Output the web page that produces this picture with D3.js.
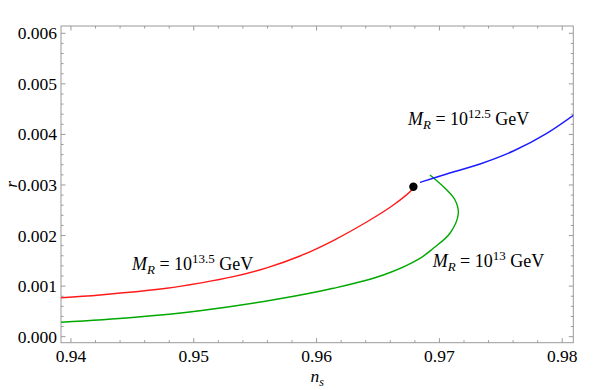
<!DOCTYPE html>
<html>
<head>
<meta charset="utf-8">
<script src="https://cdn.jsdelivr.net/npm/d3@7"></script>
<style>
  body { margin: 0; background: #fff; }
</style>
</head>
<body>
<svg id="chart" width="599" height="390" font-family="'Liberation Serif', 'Times New Roman', serif"></svg>
<script>
// curves: [n_s, r]
var redCurve = [
  [0.9392, 0.000771], [0.94236, 0.000825], [0.94779, 0.000957], [0.9505, 0.00106],
  [0.95322, 0.001187], [0.95594, 0.001362], [0.95865, 0.001596], [0.96136, 0.001902],
  [0.96408, 0.002268], [0.96625, 0.002604], [0.96774, 0.002901], [0.96788, 0.002966]
];
var greenCurve = [
  [0.9392, 0.000285], [0.9450, 0.00038], [0.9505, 0.000514], [0.95675, 0.000739],
  [0.96136, 0.000957], [0.96543, 0.00122], [0.96842, 0.00155], [0.9695, 0.001748],
  [0.97086, 0.002045], [0.97154, 0.00244], [0.97127, 0.002703], [0.97046, 0.002935],
  [0.96923, 0.003198]
];
var blueCurve = [
  [0.96842, 0.003053], [0.97059, 0.003217], [0.97331, 0.003415], [0.97602, 0.003672],
  [0.97874, 0.004022], [0.9810, 0.004395]
];
var dotPoint = [0.96788, 0.002966];

var xTicks = [0.94, 0.95, 0.96, 0.97, 0.98];
var yTicks = [0.000, 0.001, 0.002, 0.003, 0.004, 0.005, 0.006];

// label: [n_s, r, exponent]
var labels = [
  [0.96744, 0.004186, "12.5"],
  [0.94497, 0.001319, "13.5"],
  [0.96945, 0.001384, "13"]
];

var svg = d3.select("#chart");
var pLeft = 61, pRight = 573.3, pTop = 26, pBottom = 342.7;

var x = d3.scaleLinear().domain([0.93919, 0.9809]).range([pLeft, pRight]);
var y = d3.scaleLinear().domain([-0.000119, 0.006144]).range([pBottom, pTop]);

var frameColor = "#9a9a9a";

svg.append("clipPath").attr("id", "clip")
  .append("rect").attr("x", pLeft).attr("y", pTop)
  .attr("width", pRight - pLeft).attr("height", pBottom - pTop);

// minor + major ticks on all four sides
var xMinor = d3.range(0.94, 0.9811, 0.002);
var yMinor = d3.range(0, 0.00615, 0.0002);
var tg = svg.append("g").attr("stroke", frameColor).attr("stroke-width", 1);

xMinor.forEach(function(v, i) {
  var len = (i % 5 === 0) ? 4.5 : 2.5;
  var px = x(v);
  tg.append("line").attr("x1", px).attr("x2", px).attr("y1", pBottom).attr("y2", pBottom - len);
  tg.append("line").attr("x1", px).attr("x2", px).attr("y1", pTop).attr("y2", pTop + len);
});
yMinor.forEach(function(v, i) {
  var len = (i % 5 === 0) ? 4.5 : 2.5;
  var py = y(v);
  tg.append("line").attr("x1", pLeft).attr("x2", pLeft + len).attr("y1", py).attr("y2", py);
  tg.append("line").attr("x1", pRight).attr("x2", pRight - len).attr("y1", py).attr("y2", py);
});

svg.append("rect").attr("x", pLeft).attr("y", pTop)
  .attr("width", pRight - pLeft).attr("height", pBottom - pTop)
  .attr("fill", "none").attr("stroke", frameColor).attr("stroke-width", 1);

// tick labels
svg.selectAll(".xl").data(xTicks).enter().append("text")
  .attr("x", function(d) { return x(d); }).attr("y", pBottom + 19)
  .attr("text-anchor", "middle").attr("font-size", 17.5)
  .text(function(d) { return d3.format(".2f")(d); });

svg.selectAll(".yl").data(yTicks).enter().append("text")
  .attr("x", pLeft - 4).attr("y", function(d) { return y(d) + 6; })
  .attr("text-anchor", "end").attr("font-size", 17.5)
  .text(function(d) { return d3.format(".3f")(d); });

// axis titles
var xt = svg.append("text").attr("x", (pLeft + pRight) / 2).attr("y", 382)
  .attr("text-anchor", "middle").attr("font-size", 17.5).attr("font-style", "italic");
xt.append("tspan").text("n");
xt.append("tspan").attr("font-size", 12).attr("dy", 4).text("s");

svg.append("text").attr("transform", "translate(17," + ((pTop + pBottom) / 2) + ") rotate(-90)")
  .attr("text-anchor", "middle").attr("font-size", 17.5).attr("font-style", "italic").text("r");

// curves
var line = d3.line()
  .x(function(d) { return x(d[0]); })
  .y(function(d) { return y(d[1]); })
  .curve(d3.curveCatmullRom.alpha(0.5));

var cg = svg.append("g").attr("clip-path", "url(#clip)").attr("fill", "none").attr("stroke-width", 1.4);
cg.append("path").datum(greenCurve).attr("d", line).attr("stroke", "#00a800");
cg.append("path").datum(redCurve).attr("d", line).attr("stroke", "#ff1a1a");
cg.append("path").datum(blueCurve).attr("d", line).attr("stroke", "#1a1aff");

svg.append("circle").attr("cx", x(dotPoint[0])).attr("cy", y(dotPoint[1]))
  .attr("r", 4.2).attr("fill", "#000");

// annotations
labels.forEach(function(l) {
  var t = svg.append("text").attr("x", x(l[0])).attr("y", y(l[1])).attr("font-size", 18);
  t.append("tspan").attr("font-style", "italic").text("M");
  t.append("tspan").attr("font-style", "italic").attr("font-size", 13).attr("dy", 4).text("R");
  t.append("tspan").attr("dy", -4).text("\u00a0=\u00a010");
  t.append("tspan").attr("font-size", 13).attr("dy", -7).text(l[2]);
  t.append("tspan").attr("dy", 7).text("\u00a0GeV");
});
</script>
</body>
</html>
